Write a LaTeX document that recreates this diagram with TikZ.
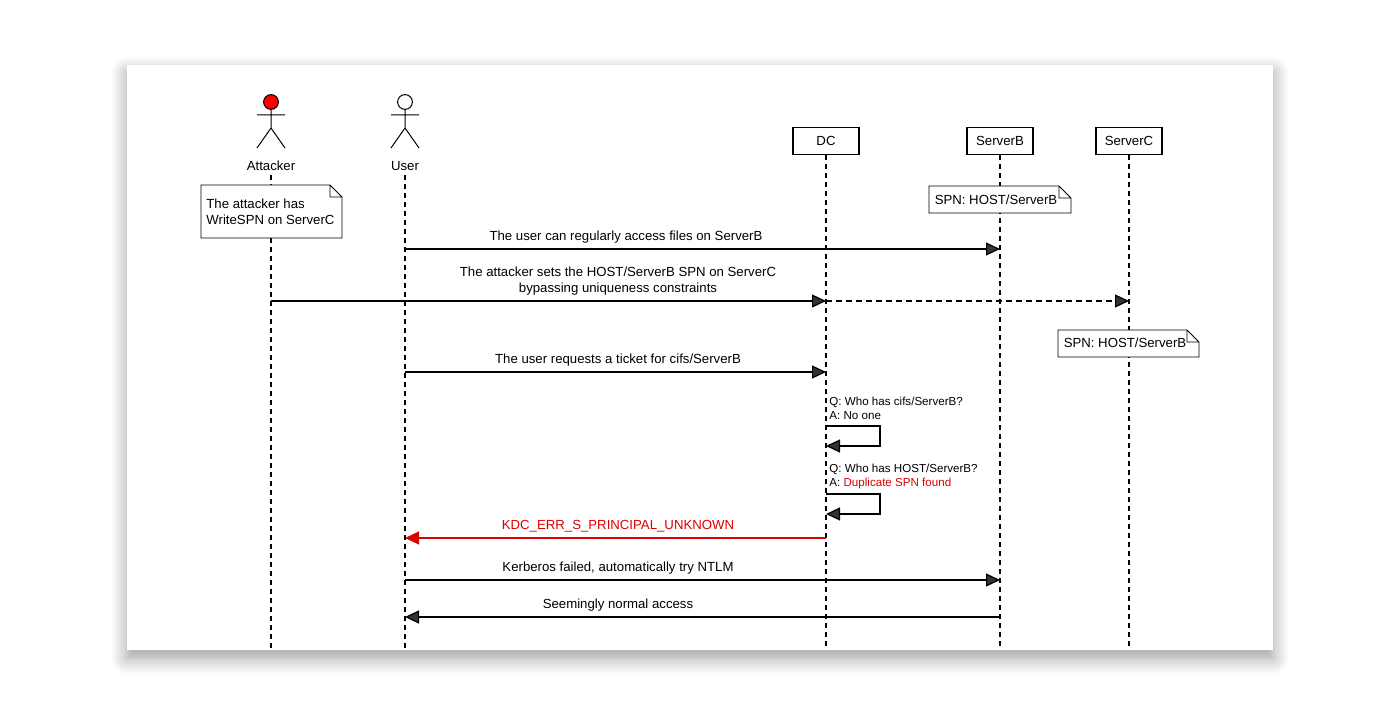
\documentclass[tikz,border=0pt]{standalone}
\usepackage{fontspec}
\setmainfont{Liberation Sans}
\usepackage{xcolor}
\usetikzlibrary{arrows.meta,positioning,calc,shadows.blur}
\definecolor{errred}{RGB}{220,0,0}

\begin{document}
\begin{tikzpicture}[
  x=0.5pt, y=-0.5pt,
  txt/.style={font=\fontsize{6.6}{8}\selectfont, inner sep=0pt},
  lbl/.style={txt, above=2.5pt},
  box/.style={draw, thick, minimum width=33pt, minimum height=13.5pt, font=\fontsize{6.6}{8}\selectfont},
  life/.style={dashed, thick, dash pattern=on 2.5pt off 2pt},
  msg/.style={-{Triangle[length=7pt,width=6.5pt]}, line width=0.6pt},
  >=Stealth
]
  \useasboundingbox (0,0) rectangle (1400,716);
  \fill[white, blur shadow={shadow blur steps=10, shadow xshift=0pt, shadow yshift=-4pt, shadow blur radius=8pt}]
    (127,65) rectangle (1273,650);

  % participants
  \node[box] (DC) at (826,141) {DC};
  \node[box] (SB) at (1000,141) {ServerB};
  \node[box] (SC) at (1129,141) {ServerC};
  \foreach \x/\name/\col/\lbl in {271/att/red/Attacker, 405/usr/white/User} {
    \draw[line width=0.5pt, fill=\col] (\x,102) circle (3.7pt);
    \draw[line width=0.5pt] (\x,109) -- (\x,128) (\x-14,115) -- (\x+14,115)
      (\x-14,148) -- (\x,128) -- (\x+14,148);
    \node[txt] (\name) at (\x,166) {\lbl};
  }
  \coordinate (mid) at (618,0);

  % lifelines
  \coordinate (attE) at (271,650); \coordinate (usrE) at (405,650);
  \coordinate (DCE) at (826,650); \coordinate (SBE) at (1000,650); \coordinate (SCE) at (1129,650);
  \draw[life] (att.south) ++(0,4) -- (attE);
  \draw[life] (usr.south) ++(0,4) -- (usrE);
  \draw[life] (DC.south) -- (DCE);
  \draw[life] (SB.south) -- (SBE);
  \draw[life] (SC.south) -- (SCE);

  % notes
  \foreach \xa/\ya/\xb/\yb in {201/185/342/238, 929/186/1071/213, 1058/330/1199/357}
    \draw[line width=0.4pt, fill=white] (\xa,\ya) -- (\xb-12,\ya) -- (\xb,\ya+12) -- (\xb,\yb) -- (\xa,\yb) -- cycle
      (\xb-12,\ya) -- (\xb-12,\ya+12) -- (\xb,\ya+12);
  \node[txt, align=left, anchor=west] (n1) at (206,212) {The attacker has\\WriteSPN on ServerC};
  \node[txt] (n2) at (996,200) {SPN: HOST/ServerB};
  \node[txt] (n3) at (1125,343) {SPN: HOST/ServerB};

  % messages
  \coordinate (u1) at (405,249); \coordinate (b1) at (1000,249);
  \draw[msg] (u1) -- (b1);
  \node[lbl] (m1) at ([xshift=4]mid |- u1) {The user can regularly access files on ServerB};
  \coordinate (a2) at (271,301); \coordinate (d2) at (826,301); \coordinate (c2) at (1129,301);
  \draw[msg] (a2) -- (d2);
  \node[lbl, align=center] (m2) at (mid |- a2) {The attacker sets the HOST/ServerB SPN on ServerC\\bypassing uniqueness constraints};
  \draw[msg, dashed, dash pattern=on 3pt off 2pt] (d2) -- (c2);
  \coordinate (u3) at (405,372); \coordinate (d3) at (826,372);
  \draw[msg] (u3) -- (d3);
  \node[lbl] (m3) at (mid |- u3) {The user requests a ticket for cifs/ServerB};

  % self checks
  \node[txt, align=left, anchor=south west, font=\fontsize{5.8}{7}\selectfont] (q1) at (829,420) {Q: Who has cifs/ServerB?\\A: No one};
  \coordinate (s1) at (826,426); \coordinate (e1) at (826,446);
  \draw[msg] (s1) -| (880,446) -- (e1);
  \node[txt, align=left, anchor=south west, font=\fontsize{5.8}{7}\selectfont] (q2) at (829,489) {Q: Who has HOST/ServerB?\\A: \textcolor{errred}{Duplicate SPN found}};
  \coordinate (s2) at (826,494); \coordinate (e2) at (826,514);
  \draw[msg] (s2) -| (880,514) -- (e2);

  \coordinate (d6) at (826,538); \coordinate (u6) at (405,538);
  \draw[msg, errred] (d6) -- (u6);
  \node[lbl, text=errred] (m6) at (mid |- d6) {KDC\_ERR\_S\_PRINCIPAL\_UNKNOWN};
  \coordinate (u7) at (405,580); \coordinate (b7) at (1000,580);
  \draw[msg] (u7) -- (b7);
  \node[lbl] (m7) at (mid |- u7) {Kerberos failed, automatically try NTLM};
  \coordinate (b8) at (1000,617); \coordinate (u8) at (405,617);
  \draw[msg] (b8) -- (u8);
  \node[lbl] (m8) at (mid |- b8) {Seemingly normal access};
\end{tikzpicture}
\end{document}
